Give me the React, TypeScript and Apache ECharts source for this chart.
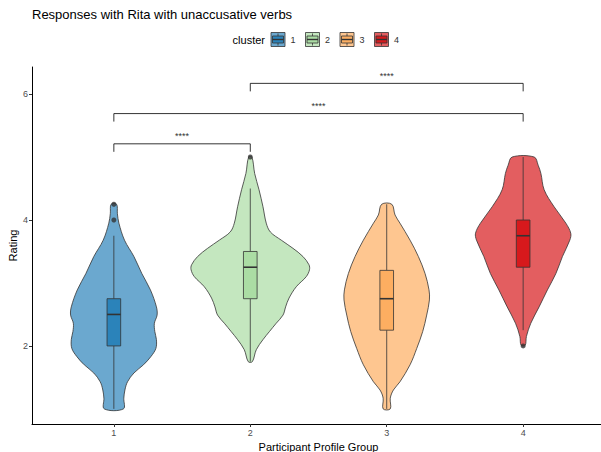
import React, { useEffect, useRef } from "react";
import * as echarts from "echarts";

const clusters = ["1", "2", "3", "4"];
const violinFill = ["#6BA8CF", "#C4E7BF", "#FEC690", "#E35E60"];
const boxFill = ["#2B83BA", "#ABDDA4", "#FDAE61", "#D7191C"];

// Violin outlines: rating levels and scaled density (half-width in x units)
const violin1Rating = [1.0, 1.17, 1.3, 1.43, 1.57, 1.7, 1.83, 1.96, 2.1, 2.23, 2.36, 2.49, 2.62, 2.89, 3.15, 3.42, 3.68, 3.95, 4.1, 4.25];
const violin1Density = [0.07, 0.073, 0.081, 0.1, 0.147, 0.217, 0.271, 0.308, 0.312, 0.3, 0.297, 0.317, 0.312, 0.268, 0.205, 0.147, 0.078, 0.037, 0.026, 0.02];
const violin2Rating = [1.75, 1.94, 2.1, 2.23, 2.36, 2.49, 2.62, 2.76, 2.94, 3.1, 3.21, 3.29, 3.42, 3.55, 3.68, 3.81, 3.95, 4.21, 4.48, 4.74, 5.0];
const violin2Density = [0.015, 0.044, 0.093, 0.141, 0.19, 0.24, 0.259, 0.284, 0.337, 0.41, 0.434, 0.43, 0.386, 0.313, 0.227, 0.147, 0.117, 0.093, 0.064, 0.032, 0.012];
const violin3Rating = [1.0, 1.17, 1.3, 1.43, 1.7, 1.96, 2.23, 2.49, 2.73, 2.89, 3.15, 3.42, 3.68, 3.95, 4.08, 4.25];
const violin3Density = [0.026, 0.026, 0.049, 0.097, 0.171, 0.22, 0.264, 0.293, 0.313, 0.31, 0.281, 0.232, 0.171, 0.097, 0.061, 0.037];
const violin4Rating = [2.01, 2.15, 2.36, 2.62, 2.89, 3.15, 3.42, 3.68, 3.79, 3.95, 4.21, 4.48, 4.74, 4.87, 5.0];
const violin4Density = [0.015, 0.024, 0.056, 0.117, 0.178, 0.24, 0.288, 0.342, 0.349, 0.313, 0.227, 0.154, 0.13, 0.11, 0.081];

const violinRatings = [violin1Rating, violin2Rating, violin3Rating, violin4Rating];
const violinDensities = [violin1Density, violin2Density, violin3Density, violin4Density];

// Box statistics: [lower whisker, Q1, median, Q3, upper whisker]
const boxStats = [
  [1.0, 2.0, 2.5, 2.75, 3.75],
  [1.75, 2.75, 3.25, 3.5, 4.5],
  [1.0, 2.25, 2.75, 3.2, 4.25],
  [2.25, 3.25, 3.75, 4.0, 5.0],
];

// Outliers: [group, rating]
const outliers = [
  [1, 4.0],
  [1, 4.25],
  [2, 5.0],
  [4, 2.0],
];

// Significance brackets: [from group, to group, height, label]
const brackets: [number, number, number, string][] = [
  [1, 2, 5.21, "****"],
  [1, 4, 5.69, "****"],
  [2, 4, 6.17, "****"],
];

const yTicks = [2, 4, 6];
const xTicks = [1, 2, 3, 4];

const FONT = "Liberation Sans, Arial, Helvetica, sans-serif";
const INK = "#333333";

export default function App() {
  const ref = useRef<HTMLDivElement>(null);

  useEffect(() => {
    if (!ref.current) return;
    const chart = echarts.init(ref.current, undefined, { renderer: "svg" });

    const legendItems: any[] = [];
    const legendX0 = 271;
    const legendStep = 34.5;
    clusters.forEach((c, i) => {
      const x = legendX0 + i * legendStep;
      const y = 32.5;
      const s = 14;
      legendItems.push(
        { type: "rect", shape: { x, y, width: s, height: s }, style: { fill: violinFill[i], stroke: INK, lineWidth: 0.8 } },
        { type: "line", shape: { x1: x + s / 2, y1: y + 1, x2: x + s / 2, y2: y + 3.5 }, style: { stroke: INK, lineWidth: 0.8 } },
        { type: "line", shape: { x1: x + s / 2, y1: y + s - 3.5, x2: x + s / 2, y2: y + s - 1 }, style: { stroke: INK, lineWidth: 0.8 } },
        { type: "rect", shape: { x: x + 1.5, y: y + 3.5, width: s - 3, height: s - 7 }, style: { fill: boxFill[i], stroke: INK, lineWidth: 0.8 } },
        { type: "line", shape: { x1: x + 1.5, y1: y + s / 2, x2: x + s - 1.5, y2: y + s / 2 }, style: { stroke: INK, lineWidth: 1.4 } },
        { type: "text", x: x + s + 8, y: y + s / 2, style: { text: c, fontSize: 9, fontFamily: FONT, fill: INK, textAlign: "center", textVerticalAlign: "middle" } }
      );
    });

    const option: any = {
      animation: false,
      backgroundColor: "#ffffff",
      textStyle: { fontFamily: FONT },
      grid: { left: 32, top: 67, width: 573, height: 357, containLabel: false, outerBoundsMode: "none" },
      xAxis: {
        type: "value",
        min: 0.4,
        max: 4.6,
        name: "Participant Profile Group",
        nameLocation: "middle",
        nameGap: 15,
        nameTextStyle: { fontSize: 11, color: "#000", fontFamily: FONT },
        axisLine: { show: true, lineStyle: { color: "#000", width: 1 } },
        axisTick: { show: true, length: 3, lineStyle: { color: INK }, customValues: xTicks },
        axisLabel: { fontSize: 9, color: "#4D4D4D", margin: 4, customValues: xTicks, formatter: (v: number) => String(v) },
        splitLine: { show: false },
      },
      yAxis: {
        type: "value",
        min: 0.76,
        max: 6.43,
        axisLine: { show: true, lineStyle: { color: "#000", width: 1 } },
        axisTick: { show: true, length: 3, lineStyle: { color: INK }, customValues: yTicks },
        axisLabel: { fontSize: 9, color: "#4D4D4D", margin: 4, customValues: yTicks, formatter: (v: number) => String(v) },
        splitLine: { show: false },
      },
      graphic: [
        { type: "text", left: 32, top: 8, style: { text: "Responses with Rita with unaccusative verbs", fontSize: 13, fontFamily: FONT, fill: "#000" } },
        { type: "text", x: 12.5, y: 245.5, rotation: Math.PI / 2, style: { text: "Rating", fontSize: 11, fontFamily: FONT, fill: "#000", textAlign: "center", textVerticalAlign: "middle" } },
        { type: "text", x: 265, y: 40, style: { text: "cluster", fontSize: 11, fontFamily: FONT, fill: "#000", textAlign: "right", textVerticalAlign: "middle" } },
        ...legendItems,
      ],
      series: [
        {
          type: "custom",
          name: "violin",
          encode: { x: 0, y: 1 },
          data: clusters.map((_, i) => [i + 1, boxStats[i][2]]),
          renderItem: (params: any, api: any) => {
            const i = params.dataIndex;
            const g = i + 1;
            const ys = violinRatings[i];
            const ds = violinDensities[i];
            const pts: number[][] = [];
            for (let k = 0; k < ys.length; k++) pts.push(api.coord([g + ds[k], ys[k]]));
            for (let k = ys.length - 1; k >= 0; k--) pts.push(api.coord([g - ds[k], ys[k]]));
            return {
              type: "polygon",
              shape: { points: pts, smooth: 0.35 },
              style: { fill: violinFill[i], stroke: INK, lineWidth: 0.8 },
            };
          },
          z: 1,
        },
        {
          type: "custom",
          name: "box",
          encode: { x: 0, y: 1 },
          data: clusters.map((_, i) => [i + 1, boxStats[i][2]]),
          renderItem: (params: any, api: any) => {
            const i = params.dataIndex;
            const g = i + 1;
            const [lo, q1, med, q3, hi] = boxStats[i];
            const hw = 0.05;
            const pLo = api.coord([g, lo]);
            const pQ1 = api.coord([g, q1]);
            const pQ3 = api.coord([g, q3]);
            const pHi = api.coord([g, hi]);
            const tl = api.coord([g - hw, q3]);
            const br = api.coord([g + hw, q1]);
            const mL = api.coord([g - hw, med]);
            const mR = api.coord([g + hw, med]);
            return {
              type: "group",
              children: [
                { type: "line", shape: { x1: pQ3[0], y1: pQ3[1], x2: pHi[0], y2: pHi[1] }, style: { stroke: INK, lineWidth: 0.8 } },
                { type: "line", shape: { x1: pQ1[0], y1: pQ1[1], x2: pLo[0], y2: pLo[1] }, style: { stroke: INK, lineWidth: 0.8 } },
                { type: "rect", shape: { x: tl[0], y: tl[1], width: br[0] - tl[0], height: br[1] - tl[1] }, style: { fill: boxFill[i], stroke: INK, lineWidth: 0.8 } },
                { type: "line", shape: { x1: mL[0], y1: mL[1], x2: mR[0], y2: mR[1] }, style: { stroke: INK, lineWidth: 1.6 } },
              ],
            };
          },
          z: 2,
        },
        {
          type: "scatter",
          name: "outliers",
          data: outliers,
          symbol: "circle",
          symbolSize: 5,
          itemStyle: { color: INK },
          z: 3,
        },
        {
          type: "custom",
          name: "brackets",
          encode: { x: 0, y: 2 },
          data: brackets.map((b) => [b[0], b[1], b[2]]),
          renderItem: (params: any, api: any) => {
            const b = brackets[params.dataIndex];
            const a1 = api.coord([b[0], b[2]]);
            const a2 = api.coord([b[1], b[2]]);
            const drop = 8;
            return {
              type: "group",
              children: [
                {
                  type: "polyline",
                  shape: { points: [[a1[0], a1[1] + drop], [a1[0], a1[1]], [a2[0], a2[1]], [a2[0], a2[1] + drop]] },
                  style: { stroke: "#000", lineWidth: 0.8, fill: "none" },
                },
                {
                  type: "text",
                  x: (a1[0] + a2[0]) / 2,
                  y: a1[1] - 3,
                  style: { text: b[3], fontSize: 9, fontFamily: FONT, fill: INK, textAlign: "center", textVerticalAlign: "bottom" },
                },
              ],
            };
          },
          z: 4,
        },
      ],
    };

    chart.setOption(option);
    return () => chart.dispose();
  }, []);

  return <div ref={ref} style={{ width: 601, height: 452, position: "absolute", left: 0, top: 0 }} />;
}
